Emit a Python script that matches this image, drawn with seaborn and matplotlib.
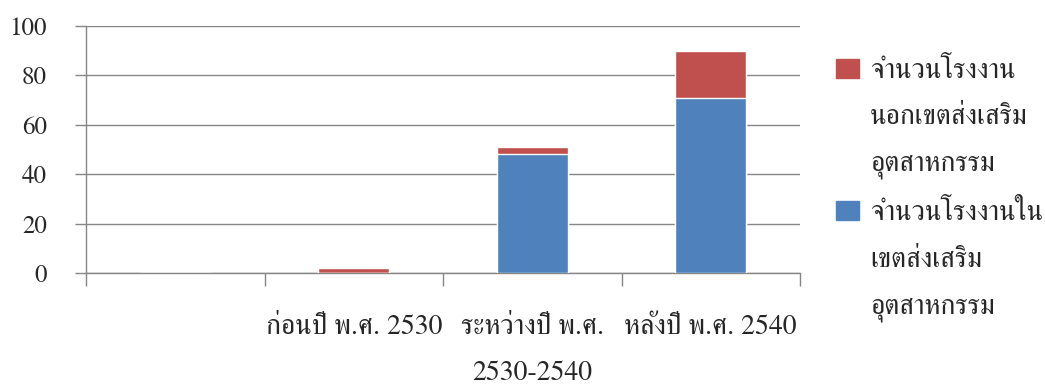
import matplotlib
matplotlib.use("Agg")
import matplotlib.pyplot as plt
import matplotlib.patches as mpatches
import seaborn as sns
import pandas as pd

# data
periods = ["", "ก่อนปี พ.ศ. 2530", "ระหว่างปี พ.ศ.\n2530-2540", "หลังปี พ.ศ. 2540"]
in_zone = [0, 0, 48, 71]      # blue, bottom of the stack
out_zone = [0, 2, 3, 19]      # red, on top
legend_out = ["จำนวนโรงงาน", "นอกเขตส่งเสริม", "อุตสาหกรรม"]
legend_in = ["จำนวนโรงงานใน", "เขตส่งเสริม", "อุตสาหกรรม"]

RED = "#C0504D"
BLUE = "#4F81BD"
GRID = "#868686"

df = pd.DataFrame({"period": periods, "in_zone": in_zone, "out_zone": out_zone})
df["total"] = df["in_zone"] + df["out_zone"]

sns.set_theme(style="white")
plt.rcParams["font.family"] = ["FreeSerif", "Liberation Serif", "DejaVu Serif"]

fig = plt.figure(figsize=(10.45, 3.9), dpi=100)
ax = fig.add_axes([86 / 1045, 1 - 273 / 390, 714 / 1045, 247 / 390])

sns.barplot(data=df, x="period", y="total", order=periods, color=RED,
            width=0.4, saturation=1, ax=ax, zorder=3)
sns.barplot(data=df, x="period", y="in_zone", order=periods, color=BLUE,
            width=0.4, saturation=1, ax=ax, zorder=3)

ax.set_ylim(0, 100)
ax.set_xlim(-0.5, len(periods) - 0.5)
ax.set_yticks(range(0, 101, 20))
ax.grid(axis="y", color=GRID, linewidth=1)
ax.set_axisbelow(True)

# boundary ticks as major, labels at the category centres as minor
ax.set_xticks([i - 0.5 for i in range(len(periods) + 1)])
ax.set_xticklabels([])
ax.set_xticks(range(len(periods)), minor=True)
ax.set_xticklabels(periods, minor=True, fontsize=20, linespacing=2.1)
ax.tick_params(axis="x", which="major", length=9, width=1, color=GRID, bottom=True)
ax.tick_params(axis="x", which="minor", length=0, pad=30)
ax.tick_params(axis="y", length=8, width=1, color=GRID, left=True, pad=20, labelsize=18)
ax.set_xlabel("")
ax.set_ylabel("")

for s in ["top", "right"]:
    ax.spines[s].set_visible(False)
for s in ["left", "bottom"]:
    ax.spines[s].set_color(GRID)
    ax.spines[s].set_linewidth(1)

handles = [mpatches.Patch(color=RED), mpatches.Patch(color="none"), mpatches.Patch(color="none"),
           mpatches.Patch(color=BLUE), mpatches.Patch(color="none"), mpatches.Patch(color="none")]
fig.legend(handles, legend_out + legend_in, loc="upper left",
           bbox_to_anchor=(836 / 1045, 1 - 58 / 390), frameon=False, fontsize=20,
           handlelength=0.83, handleheight=0.68, handletextpad=0.4,
           labelspacing=0.76, borderpad=0, borderaxespad=0)

fig.savefig("out.png", dpi=100)
